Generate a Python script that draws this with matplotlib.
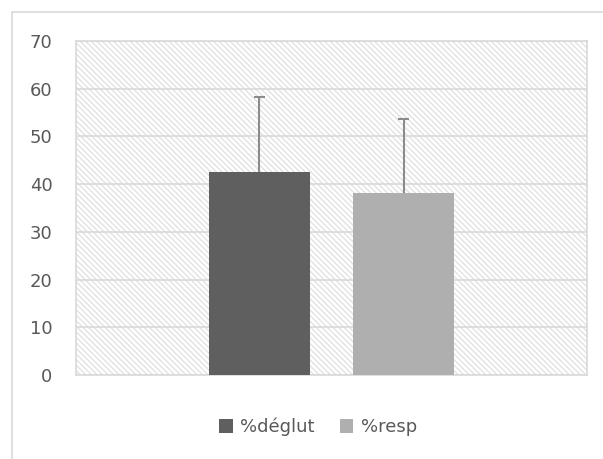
import matplotlib
matplotlib.use("Agg")
import matplotlib.pyplot as plt
from matplotlib.patches import Rectangle, Patch

plt.rcParams['font.family'] = ['DejaVu Sans']
plt.rcParams['hatch.color'] = '#e0e0e0'
plt.rcParams['hatch.linewidth'] = 0.9

# data
series = ['%déglut', '%resp']
means = [42.5, 38.1]
errors = [15.7, 15.5]
colors = ['#5f5f5f', '#afafaf']
yticks = [0, 10, 20, 30, 40, 50, 60, 70]

W, H = 603, 459
fig = plt.figure(figsize=(W / 100, H / 100), dpi=100)

# outer chart border (only top/left visible in the crop)
fig.add_artist(Rectangle((12 / W, -0.1), 2, 1 - 12 / H + 0.1, transform=fig.transFigure,
                         fill=False, edgecolor='#d9d9d9', linewidth=1.2))

ax = fig.add_axes([76 / W, (H - 375) / H, 511 / W, 334 / H])
ax.patch.set_hatch('\\' * 6)
ax.patch.set_edgecolor('#e0e0e0')

offsets = [-0.282, 0.282]
width = 0.395
for off, m, e, c in zip(offsets, means, errors, colors):
    ax.bar(off, m, width=width, color=c, zorder=3)
    # plus-only error bar
    ax.vlines(off, m, m + e, color='#8c8c8c', linewidth=1.5, zorder=4)
    ax.hlines(m + e, off - 0.023, off + 0.023, color='#8c8c8c', linewidth=1.5, zorder=4)

ax.set_xlim(-1, 1)
ax.set_ylim(0, 70)
ax.set_yticks(yticks)
ax.set_xticks([])
ax.yaxis.grid(True, color='#d9d9d9', linewidth=1.2, zorder=1)
ax.set_axisbelow(True)
ax.tick_params(axis='y', length=0, pad=17, labelsize=13, labelcolor='#595959')
for s in ax.spines.values():
    s.set_color('#d9d9d9')
    s.set_linewidth(1.2)

handles = [Patch(facecolor=c, edgecolor='none') for c in colors]
fig.legend(handles, series, loc='center', bbox_to_anchor=(318 / W, 1 - 427 / H),
           ncol=2, frameon=False, fontsize=13, labelcolor='#595959',
           handlelength=0.75, handleheight=0.75, handletextpad=0.4, columnspacing=1.4)

fig.savefig('out.png', dpi=100)
